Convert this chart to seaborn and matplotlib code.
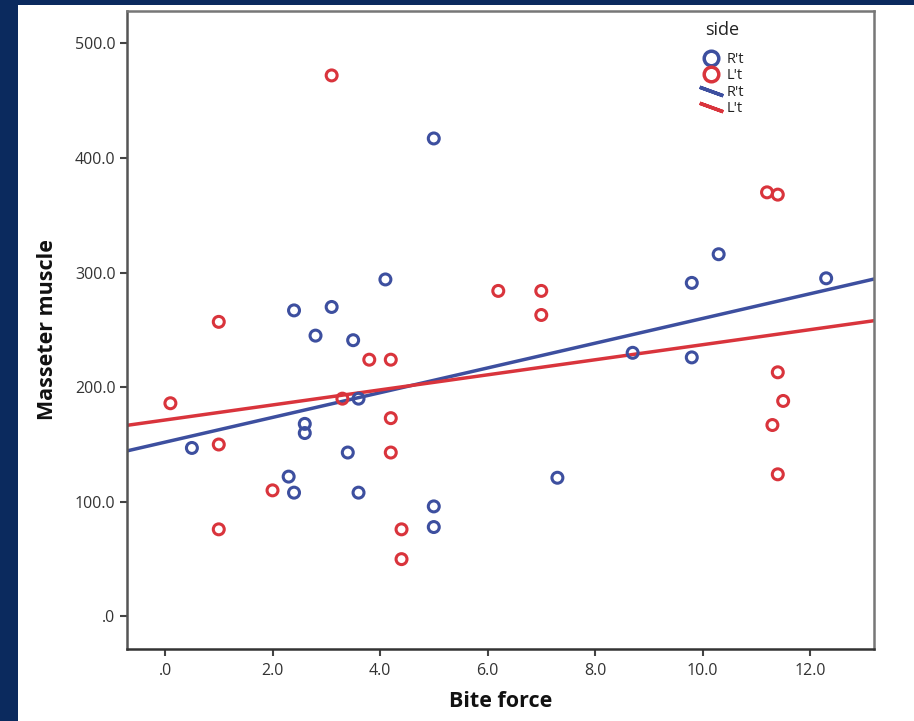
import matplotlib
matplotlib.use("Agg")
import matplotlib.pyplot as plt
from matplotlib.lines import Line2D
from matplotlib.patches import Rectangle
from matplotlib.ticker import FuncFormatter, FixedLocator
import seaborn as sns
import pandas as pd

# ---- data ----
r_bite = [0.5, 2.4, 2.8, 3.1, 3.5, 4.1, 5.0, 2.6, 2.6, 3.6, 3.4, 2.3, 2.4, 3.6,
          5.0, 5.0, 7.3, 8.7, 9.8, 9.8, 10.3, 12.3]
r_muscle = [147, 267, 245, 270, 241, 294, 417, 168, 160, 190, 143, 122, 108, 108,
            96, 78, 121, 230, 291, 226, 316, 295]
l_bite = [0.1, 1.0, 1.0, 1.0, 2.0, 3.1, 3.3, 3.8, 4.2, 4.2, 4.2, 4.4, 4.4, 6.2,
          7.0, 7.0, 11.2, 11.4, 11.4, 11.5, 11.3, 11.4]
l_muscle = [186, 257, 150, 76, 110, 472, 190, 224, 224, 173, 143, 76, 50, 284,
            284, 263, 370, 368, 213, 188, 167, 124]
sides = ["R't", "L't"]
x_ticks = [0, 2, 4, 6, 8, 10, 12]
y_ticks = [0, 100, 200, 300, 400, 500]

df = pd.DataFrame({
    "Bite force": r_bite + l_bite,
    "Masseter muscle": r_muscle + l_muscle,
    "side": [sides[0]] * len(r_bite) + [sides[1]] * len(l_bite),
})

colors = {"R't": "#3d4f9f", "L't": "#d9343c"}

sns.set_style("white")
plt.rcParams["font.family"] = ["Open Sans", "DejaVu Sans"]

fig = plt.figure(figsize=(9.14, 7.21), dpi=100)
fig.patch.set_facecolor("#0b2a5e")
fig.add_artist(Rectangle((18 / 914, 0), 1 - 18 / 914, 1 - 5 / 721,
                         transform=fig.transFigure, facecolor="white",
                         edgecolor="none", zorder=0))
ax = fig.add_axes([126.7 / 914, 1 - 649 / 721, (874 - 126.7) / 914, (649 - 11) / 721])
ax.set_facecolor("white")

xlim = (-0.713, 13.19)
ylim = (-28.4, 528.2)
ax.set_xlim(*xlim)
ax.set_ylim(*ylim)

for s in sides:
    sub = df[df["side"] == s]
    c = colors[s]
    sns.regplot(data=sub, x="Bite force", y="Masseter muscle", ax=ax, ci=None,
                truncate=False, color=c,
                scatter_kws=dict(facecolors="none", edgecolors=c, linewidths=2.2,
                                 s=62, alpha=1, zorder=3),
                line_kws=dict(color=c, lw=2.5, zorder=2))

ax.set_xlim(*xlim)
ax.set_ylim(*ylim)

def fmt(v, pos):
    t = f"{v:.1f}"
    if t.startswith("0"):
        t = t[1:]
    return t

ax.xaxis.set_major_locator(FixedLocator(x_ticks))
ax.yaxis.set_major_locator(FixedLocator(y_ticks))
ax.xaxis.set_major_formatter(FuncFormatter(fmt))
ax.yaxis.set_major_formatter(FuncFormatter(fmt))
ax.tick_params(axis="both", which="major", direction="out", length=5, width=1.5,
               color="#444444", labelsize=11.5, labelcolor="#333333", pad=3,
               bottom=True, left=True)
ax.tick_params(axis="x", pad=5)

for sp in ax.spines.values():
    sp.set_visible(True)
    sp.set_color("#777777")
    sp.set_linewidth(1.8)
ax.spines["bottom"].set_color("#333333")
ax.spines["left"].set_color("#555555")

ax.set_xlabel("Bite force", fontsize=15.5, fontweight="bold", color="#111111", labelpad=9)
ax.set_ylabel("Masseter muscle", fontsize=15.5, fontweight="bold", color="#111111", labelpad=12)

handles = [
    Line2D([], [], linestyle="none", marker="o", markersize=10.5, markerfacecolor="none",
           markeredgecolor=colors["R't"], markeredgewidth=2.5),
    Line2D([], [], linestyle="none", marker="o", markersize=10.5, markerfacecolor="none",
           markeredgecolor=colors["L't"], markeredgewidth=2.5),
    Line2D([], [], linestyle="none", marker=(2, 2, 70), markersize=18,
           markeredgecolor=colors["R't"], markeredgewidth=2.5),
    Line2D([], [], linestyle="none", marker=(2, 2, 70), markersize=18,
           markeredgecolor=colors["L't"], markeredgewidth=2.5),
]
leg = ax.legend(handles, sides + sides, loc="upper left",
                bbox_to_anchor=(0.7626, 0.945), frameon=False, fontsize=10.5,
                handlelength=1.2, handletextpad=0.45,
                labelspacing=0.1, borderaxespad=0)
for t in leg.get_texts():
    t.set_color("#222222")
ax.text(0.7966, 0.970, "side", transform=ax.transAxes, ha="center", va="center",
        fontsize=13, color="#222222")

fig.savefig("out.png", dpi=100, facecolor=fig.get_facecolor())
